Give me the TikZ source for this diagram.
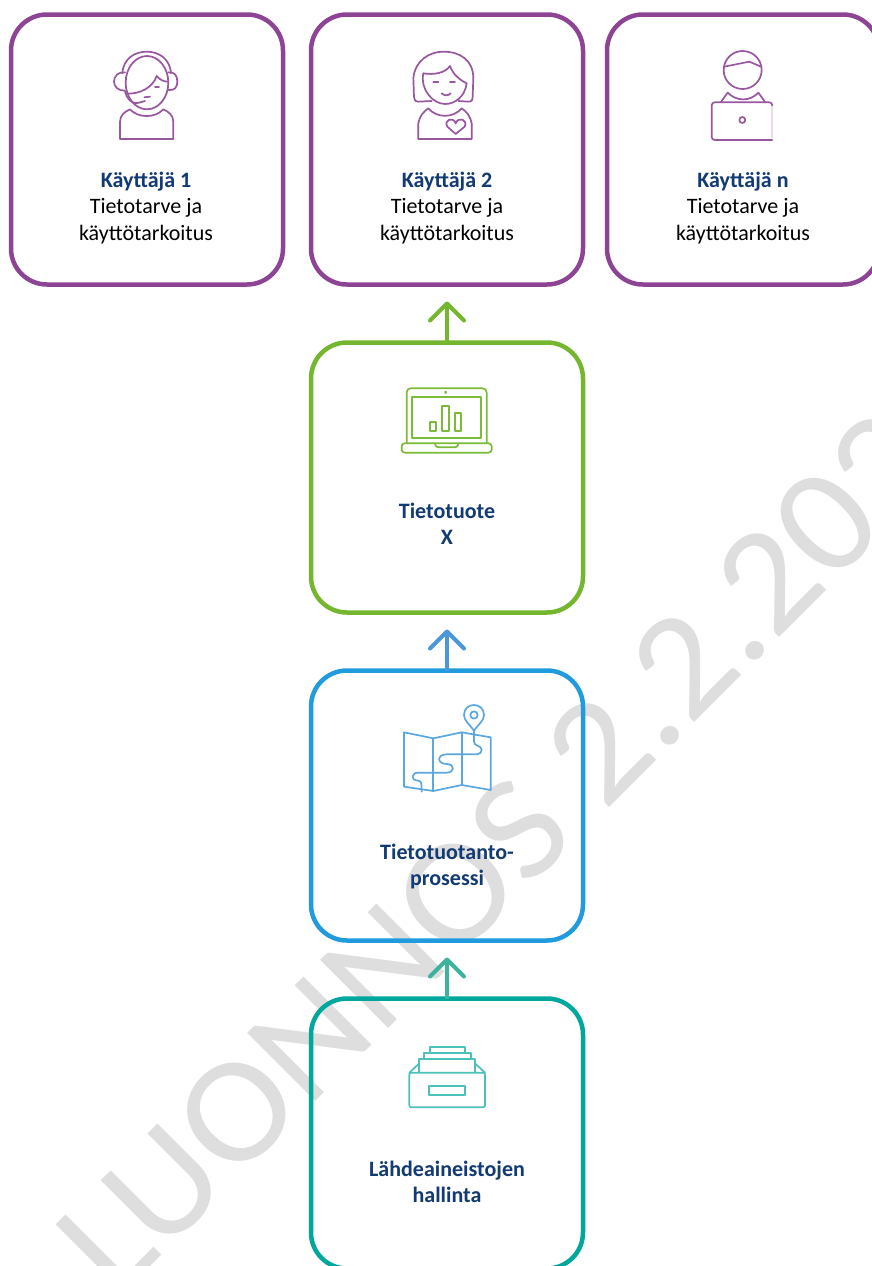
\documentclass[tikz,border=0pt]{standalone}
\usepackage{fontspec}
\setmainfont{Carlito}
\newfontfamily\markfont[FakeStretch=1.06]{Carlito}
\usepackage{xcolor}
\usepackage{tikz}
\usetikzlibrary{arrows.meta}
\usetikzlibrary{positioning}
\definecolor{userpurple}{HTML}{8E4495}
\definecolor{prodgreen}{HTML}{74B72E}
\definecolor{procblue}{HTML}{1F9BDE}
\definecolor{srcteal}{HTML}{00A79D}
\definecolor{procarrow}{HTML}{4A98DA}
\definecolor{srcarrow}{HTML}{3DB39E}
\definecolor{mapblue}{HTML}{5BA7DF}
\definecolor{navytext}{HTML}{123A73}
\definecolor{markgray}{HTML}{DEDEDE}
\tikzset{
    box/.style = {draw, line width=4.5pt, rounded corners=36pt, minimum width=272pt, minimum height=270pt, inner sep=0pt, outer sep=0pt},
    boxtext/.style = {align=center, inner sep=0pt, font=\fontsize{22}{26.6}\selectfont},
    boxhead/.style = {boxtext, text=navytext, font=\fontsize{22}{26.6}\selectfont\bfseries},
    uparrow/.style = {line width=4pt, shorten >=17pt, -{Straight Barb[length=17pt,width=34pt,round]}},
    icon/.style = {line width=1.7pt, line join=round, line cap=round},
    iconcoords/.style = {x=.3333pt, y=-.3333pt}
}

\begin{document}
\begin{tikzpicture}[x=1pt, y=-1pt]
    \path[use as bounding box, clip] (0,0) rectangle (872,1266);
    \fill[white] (0,0) rectangle (872,1266);

    \node (mark) [anchor=base west, rotate=45, text=markgray, inner sep=0pt, font=\markfont\fontsize{150}{150}\selectfont] at (116,1301) {LUONNOS 2.2.202};

    \node (user1) [box, userpurple] at (147,149.5) {};
    \node (user2) [box, userpurple, right=28pt of user1] {};
    \node (user3) [box, userpurple, right=24pt of user2] {};
    \node (prod) [box, prodgreen, below=58pt of user2] {};
    \node (proc) [box, procblue, below=58pt of prod] {};
    \node (src) [box, srcteal, below=58pt of proc] {};

    \node (user1text) [boxtext, below=157pt of user1.north, xshift=-1pt] {\textcolor{navytext}{\textbf{Käyttäjä 1}}\\Tietotarve ja\\käyttötarkoitus};
    \node (user2text) [boxtext, below=157pt of user2.north] {\textcolor{navytext}{\textbf{Käyttäjä 2}}\\Tietotarve ja\\käyttötarkoitus};
    \node (user3text) [boxtext, below=157pt of user3.north] {\textcolor{navytext}{\textbf{Käyttäjä n}}\\Tietotarve ja\\käyttötarkoitus};
    \node (prodtext) [boxhead, below=160pt of prod.north] {Tietotuote\\X};
    \node (proctext) [boxhead, below=173pt of proc.north] {Tietotuotanto-\\prosessi};
    \node (srctext) [boxhead, below=162pt of src.north] {Lähdeaineistojen\\hallinta};

    \draw[uparrow, prodgreen] (prod) -- (user2);
    \draw[uparrow, procarrow] (proc) -- (prod);
    \draw[uparrow, srcarrow] (src) -- (proc);

    \begin{scope}[shift={(90,40)}, iconcoords, icon, draw=userpurple!90!white]
        \draw (105,97) .. controls (85,95) and (72,108) .. (72,125) .. controls (72,140) and (85,153) .. (105,152);
        \draw (235,97) .. controls (255,95) and (262,108) .. (262,125) .. controls (262,140) and (255,153) .. (235,150);
        \draw (97,100) .. controls (100,55) and (135,35) .. (170,35) .. controls (205,35) and (240,55) .. (243,100);
        \draw (171,128) ellipse [x radius=64, y radius=80];
        \draw (108,160) .. controls (150,165) and (190,140) .. (200,108) .. controls (210,120) and (222,125) .. (234,125);
        \draw (105,155) .. controls (110,175) and (125,195) .. (147,188);
        \draw (147,188) -- (165,183);
        \draw (163,172) -- (180,170);
        \draw (195,142) -- (207,142);
        \draw (90,297) -- (90,245) .. controls (90,225) and (105,215) .. (120,208) .. controls (145,235) and (195,235) .. (220,208) .. controls (235,215) and (250,225) .. (250,245) -- (250,297) -- cycle;
    \end{scope}

    \begin{scope}[shift={(390,40)}, iconcoords, icon, draw=userpurple!90!white]
        \draw (125,183) -- (85,185) .. controls (75,185) and (72,178) .. (72,170) -- (70,115) .. controls (75,60) and (120,35) .. (160,35) .. controls (210,35) and (250,60) .. (250,115) -- (248,170) .. controls (248,180) and (245,185) .. (235,185) -- (205,183);
        \draw (100,100) .. controls (130,105) and (165,100) .. (180,78) .. controls (190,105) and (210,120) .. (230,130);
        \draw (100,100) .. controls (90,150) and (130,192) .. (165,192) .. controls (195,192) and (225,170) .. (230,130);
        \draw (130,125) -- (145,125);
        \draw (180,125) -- (195,125);
        \draw (155,160) .. controls (163,168) and (175,168) .. (182,160);
        \draw (85,297) -- (85,250) .. controls (88,230) and (100,215) .. (115,205) .. controls (140,235) and (190,235) .. (215,205) .. controls (230,215) and (242,230) .. (245,250) -- (245,297) -- cycle;
        \draw (197,282) -- (172,260) .. controls (160,240) and (190,228) .. (197,250) .. controls (205,228) and (235,240) .. (224,260) -- cycle;
    \end{scope}

    \begin{scope}[shift={(690,40)}, iconcoords, icon, draw=userpurple!90!white]
        \draw (158,90) circle [radius=57];
        \draw (103,80) -- (178,65) -- (213,80);
        \draw (92,187) -- (113,158) .. controls (140,185) and (180,185) .. (205,158) -- (226,187);
        \draw[userpurple!20!white] (247,195) -- (247,292);
        \draw[rounded corners=3pt] (247,195) -- (247,187) -- (65,187) -- (65,300) -- (247,300);
        \draw (157,240) circle [radius=9];
    \end{scope}

    \begin{scope}[shift={(390,290)}, iconcoords, icon, draw=prodgreen!95!white]
        \draw[rounded corners=4pt] (50,460) -- (50,295) -- (290,295) -- (290,460);
        \draw (67,320) rectangle (273,445);
        \draw (167,307) circle [radius=2];
        \draw[rounded corners=3pt] (35,460) -- (305,460) -- (305,488) -- (35,488) -- cycle;
        \draw (135,462) .. controls (137,470) and (140,472) .. (147,472) -- (193,472) .. controls (200,472) and (203,470) .. (205,462);
        \draw (120,396) rectangle (139,422);
        \draw (157,348) rectangle (178,422);
        \draw (194,370) rectangle (214,422);
    \end{scope}

    \begin{scope}[shift={(390,690)}, iconcoords, icon, draw=mapblue]
        \draw (42,127) -- (130,145) -- (215,127) -- (302,142) -- (302,300) -- (215,285) -- (130,303) -- (42,290) -- cycle;
        \draw (130,145) -- (130,303);
        \draw (215,127) -- (215,285);
        \draw (252,122) .. controls (238,102) and (222,92) .. (222,75) .. controls (222,35) and (282,35) .. (282,75) .. controls (282,92) and (266,102) .. (252,122) -- cycle;
        \draw (252,75) circle [radius=11];
        \draw (252,122) -- (252,155) .. controls (252,170) and (275,165) .. (275,180) .. controls (275,195) and (255,193) .. (245,193) -- (170,193) .. controls (140,193) and (140,222) .. (170,222) .. controls (195,222) and (195,248) .. (170,248) -- (85,248) .. controls (62,248) and (62,272) .. (85,272) .. controls (95,272) and (95,285) .. (95,305);
    \end{scope}

    \begin{scope}[shift={(390,950)}, iconcoords, icon, draw=srcteal!70!white]
        \draw[rounded corners=2pt] (58,368) rectangle (285,472);
        \draw (118,407) rectangle (224,435);
        \draw (58,368) -- (88,340);
        \draw (285,368) -- (255,340);
        \draw (88,368) -- (88,328) -- (255,328) -- (255,368);
        \draw (101,328) -- (101,308) -- (243,308) -- (243,328);
        \draw (121,308) -- (121,291) -- (224,291) -- (224,308);
    \end{scope}
\end{tikzpicture}
\end{document}
